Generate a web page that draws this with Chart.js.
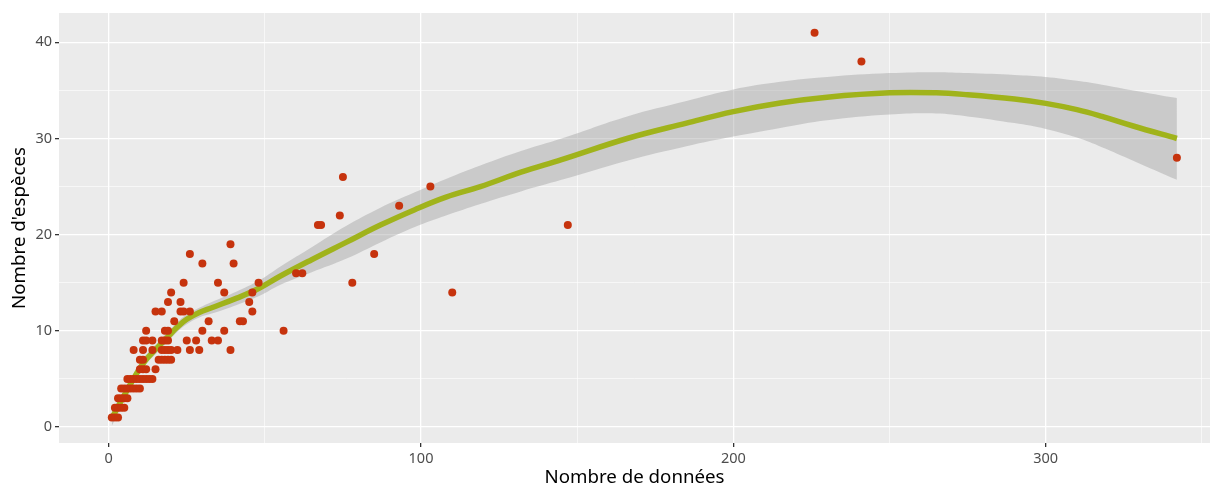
<!DOCTYPE html>
<html>
<head>
<meta charset="utf-8">
<script src="https://cdn.jsdelivr.net/npm/chart.js@4"></script>
<style>
  html, body { margin: 0; padding: 0; background: #fff; }
  #wrap { width: 1216px; height: 486px; }
</style>
</head>
<body>
<div id="wrap"><canvas id="chart"></canvas></div>
<script>
// observations: number of records vs number of species
const nbDonnees = [
  1, 2, 3,
  2, 3, 4, 5,
  3, 4, 5, 6,
  4, 5, 6, 7, 8, 9, 10,
  6, 7, 8, 9, 10, 11, 12, 13, 14,
  10, 11, 12, 15,
  10, 11, 16, 17, 18, 19, 20,
  8, 11, 14, 17, 18, 19, 20, 22, 26, 29, 39,
  11, 12, 14, 17, 18, 19, 25, 28, 33, 35,
  12, 18, 19, 30, 37, 56,
  21, 32, 42, 43,
  15, 17, 23, 24, 26, 46,
  19, 23, 45,
  20, 37, 46, 110,
  24, 35, 48, 78,
  60, 62,
  30, 40,
  26, 85,
  39,
  67, 68, 147,
  74, 93, 103, 75,
  342, 241, 226
];
const nbEspeces = [
  1, 1, 1,
  2, 2, 2, 2,
  3, 3, 3, 3,
  4, 4, 4, 4, 4, 4, 4,
  5, 5, 5, 5, 5, 5, 5, 5, 5,
  6, 6, 6, 6,
  7, 7, 7, 7, 7, 7, 7,
  8, 8, 8, 8, 8, 8, 8, 8, 8, 8, 8,
  9, 9, 9, 9, 9, 9, 9, 9, 9, 9,
  10, 10, 10, 10, 10, 10,
  11, 11, 11, 11,
  12, 12, 12, 12, 12, 12,
  13, 13, 13,
  14, 14, 14, 14,
  15, 15, 15, 15,
  16, 16,
  17, 17,
  18, 18,
  19,
  21, 21, 21,
  22, 23, 25, 26,
  28, 38, 41
];

// smoother + confidence band
const lissX = [1, 5, 11, 16, 19, 22, 25, 29, 33, 41, 48, 55, 65, 76, 87, 98, 108, 119, 132, 145, 166, 185, 200, 215, 230, 250, 265, 275, 290, 300, 310, 318, 328, 342];
const lissY = [0.9, 3.3, 6.6, 8.4, 9.4, 10.4, 11.2, 11.9, 12.4, 13.4, 14.4, 15.7, 17.4, 19.2, 21.0, 22.6, 23.9, 25.0, 26.5, 27.8, 30.0, 31.6, 32.8, 33.7, 34.3, 34.75, 34.75, 34.55, 34.1, 33.65, 33.0, 32.3, 31.3, 30.0];
const lissHaut = [1.7, 3.9, 7.1, 8.9, 9.9, 10.9, 11.7, 12.4, 13.0, 14.1, 15.2, 16.7, 18.7, 20.9, 22.8, 24.4, 25.8, 27.2, 28.7, 30.0, 32.3, 33.9, 35.1, 35.9, 36.4, 36.8, 36.9, 36.8, 36.6, 36.4, 36.0, 35.6, 35.0, 34.2];
const lissBas = [0.1, 2.7, 6.1, 7.9, 8.9, 9.9, 10.7, 11.4, 11.8, 12.7, 13.6, 14.8, 16.1, 17.5, 19.2, 20.8, 22.0, 23.2, 24.5, 25.7, 27.7, 29.2, 30.2, 31.1, 31.9, 32.5, 32.6, 32.3, 31.6, 31.0, 30.1, 29.1, 27.7, 25.7];

const xTicks = [0, 50, 100, 150, 200, 250, 300, 350];
const yTicks = [0, 5, 10, 15, 20, 25, 30, 35, 40];

const toXY = (xs, ys) => xs.map((x, i) => ({ x: x, y: ys[i] }));

const panelBg = {
  id: "panelBg",
  beforeDraw(chart) {
    const { ctx, chartArea: a } = chart;
    ctx.save();
    ctx.fillStyle = "#ebebeb";
    ctx.fillRect(a.left, a.top, a.right - a.left, a.bottom - a.top);
    ctx.restore();
  },
};

const smooth = { tension: 0.4, pointRadius: 0 };

new Chart(document.getElementById("chart"), {
  type: "scatter",
  data: {
    datasets: [
      {
        type: "scatter",
        data: toXY(nbDonnees, nbEspeces),
        backgroundColor: "#c6330d",
        borderWidth: 0,
        pointRadius: 4,
        order: 0,
      },
      {
        type: "line",
        data: toXY(lissX, lissY),
        borderColor: "#a0b31b",
        borderWidth: 5.5,
        fill: false,
        order: 1,
        ...smooth,
      },
      {
        type: "line",
        data: toXY(lissX, lissHaut),
        borderWidth: 0,
        borderColor: "rgba(0,0,0,0)",
        backgroundColor: "rgba(153,153,153,0.4)",
        fill: "+1",
        order: 2,
        ...smooth,
      },
      {
        type: "line",
        data: toXY(lissX, lissBas),
        borderWidth: 0,
        borderColor: "rgba(0,0,0,0)",
        fill: false,
        order: 3,
        ...smooth,
      },
    ],
  },
  options: {
    responsive: true,
    maintainAspectRatio: false,
    animation: false,
    layout: { padding: { left: 0, right: 6, top: 13, bottom: 0 } },
    plugins: {
      legend: { display: false },
      tooltip: { enabled: false },
    },
    scales: {
      x: {
        type: "linear",
        min: -15.9,
        max: 352.6,
        afterBuildTicks: (s) => { s.ticks = xTicks.map((v) => ({ value: v })); },
        afterFit: (s) => { s.height = 43; },
        border: { display: false },
        grid: {
          color: "#ffffff",
          lineWidth: (c) => (c.tick && c.tick.value % 100 === 0 ? 1.3 : 0.6),
          tickColor: (c) => (c.tick && c.tick.value % 100 === 0 ? "#333333" : "rgba(0,0,0,0)"),
          tickLength: 4,
        },
        ticks: {
          color: "#4d4d4d",
          font: { family: "Noto Sans", size: 14.5 },
          padding: 3,
          maxRotation: 0,
          callback: (v) => (v % 100 === 0 ? v : ""),
        },
        title: {
          display: true,
          text: "Nombre de données",
          color: "#000",
          font: { family: "Noto Sans", size: 18.7 },
          padding: { top: 0, bottom: -3 },
        },
      },
      y: {
        type: "linear",
        min: -1.66,
        max: 43.05,
        afterBuildTicks: (s) => { s.ticks = yTicks.map((v) => ({ value: v })); },
        afterFit: (s) => { s.width = 59; },
        border: { display: false },
        grid: {
          color: "#ffffff",
          lineWidth: (c) => (c.tick && c.tick.value % 10 === 0 ? 1.3 : 0.6),
          tickColor: (c) => (c.tick && c.tick.value % 10 === 0 ? "#333333" : "rgba(0,0,0,0)"),
          tickLength: 4,
        },
        ticks: {
          color: "#4d4d4d",
          font: { family: "Noto Sans", size: 14.5 },
          padding: 3,
          callback: (v) => (v % 10 === 0 ? v : ""),
        },
        title: {
          display: true,
          text: "Nombre d'espèces",
          color: "#000",
          font: { family: "Noto Sans", size: 18.7 },
          padding: { top: 8, bottom: 0 },
        },
      },
    },
  },
  plugins: [panelBg],
});
</script>
</body>
</html>
